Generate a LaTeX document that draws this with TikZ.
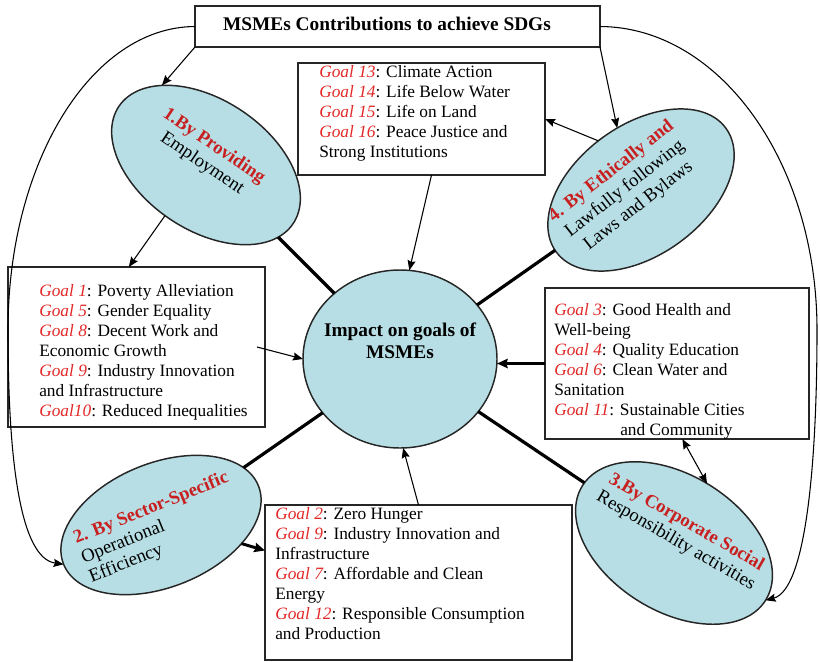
\documentclass[tikz,border=0pt]{standalone}
\usepackage{fontspec}
\setmainfont{Liberation Serif}
\usetikzlibrary{shapes.geometric,arrows.meta,calc}
\definecolor{goalred}{RGB}{226,40,40}
\definecolor{headred}{RGB}{200,32,32}
\definecolor{ellfill}{RGB}{183,222,228}
\newcommand{\goal}[1]{{\color{goalred}\itshape #1}}
\newcommand{\head}[1]{{\color{headred}\bfseries #1}}
\begin{document}
\begin{tikzpicture}[x=0.75pt,y=-0.75pt,
  boxnode/.style={draw=black!85,line width=0.9pt,rectangle,inner sep=0pt,outer sep=0pt,anchor=north west},
  gtext/.style={font=\fontsize{13}{15}\selectfont,align=left,inner sep=0pt,anchor=north west},
  ell/.style={ellipse,draw=black!85,line width=1.1pt,fill=ellfill,inner sep=0pt,outer sep=0pt},
  etext/.style={font=\fontsize{14}{15.75}\selectfont,inner sep=0pt,align=center},
  arr/.style={-{Stealth[length=7.5pt,width=6pt,inset=1pt]},line width=0.8pt},
  thickarr/.style={-{Stealth[length=8pt,width=7pt,inset=1pt]},line width=2.2pt},
  spoke/.style={line width=2.4pt}]
\useasboundingbox (0,0) rectangle (820,661);

% boxes
\node[boxnode,line width=1.2pt,minimum width=303.75pt,minimum height=30.75pt] (title) at (195,6) {};
\node[font=\fontsize{14.5}{17}\selectfont\bfseries,inner sep=0pt] (ttext) at (387,24) {MSMEs Contributions to achieve SDGs};

\node[boxnode,minimum width=192.75pt,minimum height=120pt] (b1) at (8,267) {};
\node[boxnode,minimum width=185.25pt,minimum height=84pt] (b4) at (298,63) {};
\node[boxnode,minimum width=198pt,minimum height=113.25pt] (b3) at (545,288) {};
\node[boxnode,minimum width=230.25pt,minimum height=116.25pt] (b2) at (265,505) {};

\node[gtext] (t1) at (39,284) {\goal{Goal 1}: Poverty Alleviation\\
\goal{Goal 5}: Gender Equality\\
\goal{Goal 8}: Decent Work and\\
Economic Growth\\
\goal{Goal 9}: Industry Innovation\\
and Infrastructure\\
\goal{Goal10}: Reduced Inequalities};

\node[gtext] (t4) at (319,65) {\goal{Goal 13}: Climate Action\\
\goal{Goal 14}: Life Below Water\\
\goal{Goal 15}: Life on Land\\
\goal{Goal 16}: Peace Justice and\\
Strong Institutions};

\node[gtext] (t3) at (554,303) {\goal{Goal 3}: Good Health and\\
Well-being\\
\goal{Goal 4}: Quality Education\\
\goal{Goal 6}: Clean Water and\\
Sanitation\\
\goal{Goal 11}: Sustainable Cities\\
\hspace*{49.5pt}and Community};

\node[gtext] (t2) at (275,507) {\goal{Goal 2}: Zero Hunger\\
\goal{Goal 9}: Industry Innovation and\\
Infrastructure\\
\goal{Goal 7}: Affordable and Clean\\
Energy\\
\goal{Goal 12}: Responsible Consumption\\
and Production};

% ellipses
\node[ell,minimum width=157.5pt,minimum height=97.5pt,rotate=-34] (e1) at (206,165) {};
\node[ell,minimum width=157.5pt,minimum height=97.5pt,rotate=36] (e4) at (641,190) {};
\node[ell,minimum width=157.5pt,minimum height=93pt,rotate=22] (e2) at (161,525) {};
\node[ell,minimum width=162pt,minimum height=102pt,rotate=-32] (e3) at (674,543) {};
\node[ell,minimum width=145.5pt,minimum height=133.5pt] (c) at (400,359) {};

\node[etext,rotate=-34] (e1t) at (208,155) {\head{1.By Providing}\\Employment};
\node[etext,rotate=38,font=\fontsize{14}{16.5}\selectfont] (e4t) at (625,189) {\head{4. By Ethically and}\\Lawfully following\\Laws and Bylaws};
\node[etext,rotate=22,align=left] (e2t) at (159,528) {\head{2. By Sector-Specific}\\Operational\\Efficiency};
\node[etext,rotate=-30] (e3t) at (681,532) {\head{3.By Corporate Social}\\Responsibility activities};
\node[font=\fontsize{14.5}{16.5}\selectfont\bfseries,align=center,inner sep=0pt] (ct) at (400,341) {Impact on goals of\\MSMEs};

% spokes
\draw[spoke] (e1) -- (c);
\draw[spoke] (e4) -- (c);
\draw[spoke] (e2) -- (c);
\draw[spoke] (e3) -- (c);

% arrows
\draw[arr] (title.south west) -- (e1.153);
\draw[arr] (title.south east) -- (e4.75);
\draw[arr] (e1.265) -- ($(b1.north west)!0.47!(b1.north east)$);
\draw[arr] ([xshift=-6pt]b1.east) -- (c.west);
\draw[arr] ([xshift=7.5pt]b4.south) -- (c.84);
\draw[arr] (e4.95) -- (b4.east);
\draw[thickarr] (b3.west) -- (b3.west -| c.east);
\draw[line width=0.8pt,{Stealth[length=7.5pt,width=6pt,inset=1pt]}-{Stealth[length=7.5pt,width=6pt,inset=1pt]}] ([xshift=4pt]b3.south) -- (e3.93);
\draw[thickarr] (e2.-35) -- ($(b2.west)+(0,-32)$);
\draw[arr] (b2.north) -- (c.-88);

% big curves
\draw[arr] (title.west) .. controls (91,27) and (8,163) .. (8,330) .. controls (8,460) and (20,558) .. (e2.west);
\draw[arr] (title.east) .. controls (720,27) and (817,163) .. (817,330) .. controls (817,470) and (805,590) .. (e3.east);
\end{tikzpicture}
\end{document}
